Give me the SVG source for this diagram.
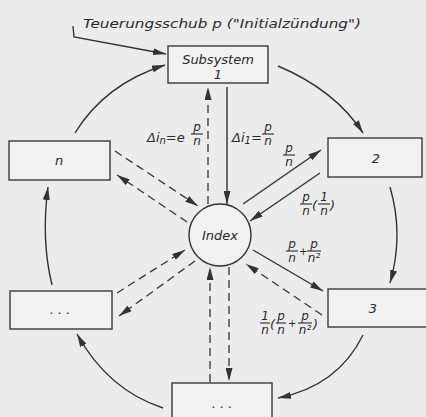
<svg xmlns="http://www.w3.org/2000/svg" width="426" height="417" viewBox="0 0 426 417">
<defs>
<style>
.bg{fill:#ececec}
.box{fill:#f1f1f1;stroke:#3a3a3a;stroke-width:1.4}
.ln{fill:none;stroke:#333;stroke-width:1.4}
.ds{fill:none;stroke:#333;stroke-width:1.3;stroke-dasharray:8 5}
text{font-family:"DejaVu Sans","Liberation Sans",sans-serif;font-style:italic;fill:#2a2a2a}
.lbl{font-size:13px}
.fr{font-size:12px;text-anchor:middle}
.sm{font-size:13px}
.pl{font-size:10px}
.bar{stroke:#2a2a2a;stroke-width:1.1}
</style>
<marker id="ah" viewBox="0 0 13 7" refX="13" refY="3.5" markerWidth="13" markerHeight="7" markerUnits="userSpaceOnUse" orient="auto">
<path d="M0,0 L13,3.5 L0,7 Z" fill="#333"/>
</marker>
</defs>
<rect class="bg" x="0" y="0" width="426" height="417"/>

<text id="title" class="lbl" x="83" y="28" textLength="278" lengthAdjust="spacingAndGlyphs">Teuerungsschub p ("Initialzündung")</text>

<g id="connectors">
<path class="ln" d="M73,26 L74,37 L166,54" marker-end="url(#ah)"/>
<path class="ln" d="M278,66 Q335,90 363,133" marker-end="url(#ah)"/>
<path class="ln" d="M390,187 Q404,235 390,283" marker-end="url(#ah)"/>
<path class="ln" d="M363,335 Q338,386 278,398" marker-end="url(#ah)"/>
<path class="ln" d="M163,408 Q108,390 77,334" marker-end="url(#ah)"/>
<path class="ln" d="M52,285 Q41,240 48,187" marker-end="url(#ah)"/>
<path class="ln" d="M75,133 Q105,84 165,65" marker-end="url(#ah)"/>

<path class="ds" d="M208,204 L208,87" marker-end="url(#ah)"/>
<path class="ln" d="M227,87 L227,204" marker-end="url(#ah)"/>
<path class="ln" d="M243,204 L321,150" marker-end="url(#ah)"/>
<path class="ln" d="M320,173 L250,221" marker-end="url(#ah)"/>
<path class="ln" d="M253,250 L323,291" marker-end="url(#ah)"/>
<path class="ds" d="M322,315 L246,264" marker-end="url(#ah)"/>
<path class="ds" d="M229,267 L229,381" marker-end="url(#ah)"/>
<path class="ds" d="M210,382 L210,267" marker-end="url(#ah)"/>
<path class="ds" d="M117,293 L185,250" marker-end="url(#ah)"/>
<path class="ds" d="M195,261 L119,316" marker-end="url(#ah)"/>
<path class="ds" d="M115,151 L198,206" marker-end="url(#ah)"/>
<path class="ds" d="M187,222 L117,175" marker-end="url(#ah)"/>
</g>

<g id="node1">
<rect class="box" x="168" y="46" width="100" height="37"/>
<text class="lbl" x="218" y="64" text-anchor="middle">Subsystem</text>
<text class="lbl" x="218" y="79" text-anchor="middle">1</text>
</g>
<g id="node2">
<rect class="box" x="328" y="138" width="94" height="39"/>
<text class="lbl" x="376" y="163" text-anchor="middle">2</text>
</g>
<g id="node3">
<rect class="box" x="328" y="289" width="100" height="38"/>
<text class="lbl" x="373" y="313" text-anchor="middle">3</text>
</g>
<g id="nodeBottom">
<rect class="box" x="172" y="383" width="100" height="40"/>
<text class="lbl" x="222" y="408" text-anchor="middle">. . .</text>
</g>
<g id="nodeLeft">
<rect class="box" x="10" y="291" width="102" height="38"/>
<text class="lbl" x="60" y="314" text-anchor="middle">. . .</text>
</g>
<g id="nodeN">
<rect class="box" x="9" y="141" width="101" height="39"/>
<text class="lbl" x="59" y="165" text-anchor="middle">n</text>
</g>
<g id="index">
<circle cx="220" cy="235" r="31" fill="#f1f1f1" stroke="#333" stroke-width="1.4"/>
<text class="lbl" x="220" y="240" text-anchor="middle">Index</text>
</g>

<g id="labels">
<text class="sm" x="147" y="142">Δi<tspan font-size="10" dy="2">n</tspan><tspan dy="-2">=e</tspan></text>
<text class="fr" x="197" y="131">p</text><line class="bar" x1="191" y1="134" x2="203" y2="134"/><text class="fr" x="197" y="145">n</text>
<text class="sm" x="232" y="142">Δi<tspan font-size="10" dy="2">1</tspan><tspan dy="-2">=</tspan></text>
<text class="fr" x="268" y="131">p</text><line class="bar" x1="262" y1="134" x2="274" y2="134"/><text class="fr" x="268" y="145">n</text>

<text class="fr" x="289" y="152">p</text><line class="bar" x1="283" y1="155" x2="295" y2="155"/><text class="fr" x="289" y="166">n</text>

<text class="fr" x="306" y="201">p</text><line class="bar" x1="300" y1="204" x2="312" y2="204"/><text class="fr" x="306" y="215">n</text>
<text class="sm" x="312" y="210">(</text>
<text class="fr" x="324" y="201">1</text><line class="bar" x1="318" y1="204" x2="330" y2="204"/><text class="fr" x="324" y="215">n</text>
<text class="sm" x="330" y="210">)</text>

<text class="fr" x="292" y="248">p</text><line class="bar" x1="286" y1="251" x2="298" y2="251"/><text class="fr" x="292" y="262">n</text>
<text class="pl" x="299" y="255">+</text>
<text class="fr" x="314" y="248">p</text><line class="bar" x1="307" y1="251" x2="321" y2="251"/><text class="fr" x="314" y="262">n²</text>

<text class="fr" x="265" y="320">1</text><line class="bar" x1="260" y1="323" x2="270" y2="323"/><text class="fr" x="265" y="334">n</text>
<text class="sm" x="270" y="329">(</text>
<text class="fr" x="281" y="320">p</text><line class="bar" x1="276" y1="323" x2="286" y2="323"/><text class="fr" x="281" y="334">n</text>
<text class="pl" x="288" y="327">+</text>
<text class="fr" x="305" y="320">p</text><line class="bar" x1="298" y1="323" x2="312" y2="323"/><text class="fr" x="305" y="334">n²</text>
<text class="sm" x="313" y="329">)</text>
</g>
</svg>
